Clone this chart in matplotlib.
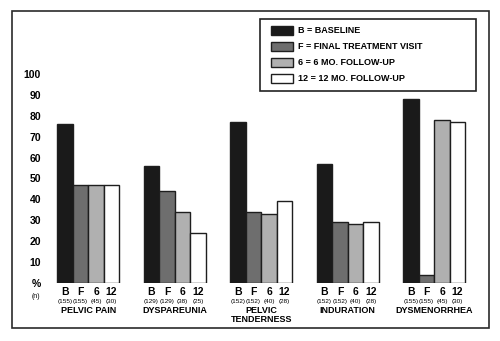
import matplotlib.pyplot as plt
from matplotlib.patches import Rectangle, Patch

plt.rcParams['font.family'] = ['Liberation Sans', 'DejaVu Sans']

categories = ['PELVIC PAIN', 'DYSPAREUNIA', 'PELVIC\nTENDERNESS', 'INDURATION', 'DYSMENORRHEA']
visits = ['B', 'F', '6', '12']
legend_labels = ['B = BASELINE', 'F = FINAL TREATMENT VISIT',
                 '6 = 6 MO. FOLLOW-UP', '12 = 12 MO. FOLLOW-UP']

# percent of patients with symptom, per visit
baseline = [76, 56, 77, 57, 88]
final_visit = [47, 44, 34, 29, 4]
followup_6 = [47, 34, 33, 28, 78]
followup_12 = [47, 24, 39, 29, 77]

# patients evaluated (n)
n_baseline = [155, 129, 152, 152, 155]
n_final = [155, 129, 152, 152, 155]
n_6 = [45, 38, 40, 40, 45]
n_12 = [30, 25, 28, 28, 30]

yticks = [0, 10, 20, 30, 40, 50, 60, 70, 80, 90, 100]
ytick_labels = ['%', '10', '20', '30', '40', '50', '60', '70', '80', '90', '100']

colors = ['#1a1a1a', '#6e6e6e', '#b0b0b0', '#ffffff']
edge = '#1e1e1e'

W, H = 500, 341
fig = plt.figure(figsize=(W / 100, H / 100), dpi=100)

# outer frame
fig.patches.append(Rectangle((12 / W, 1 - 328 / H), 477 / W, 317 / H,
                             transform=fig.transFigure, fill=False,
                             edgecolor='#2a2a2a', linewidth=1.2))

ax = fig.add_axes([48 / W, 1 - 283 / H, 432 / W, 223 / H])

series = [baseline, final_visit, followup_6, followup_12]
counts = [n_baseline, n_final, n_6, n_12]
group_step = 5.58
offset = 0.6

for j, (vals, ns) in enumerate(zip(series, counts)):
    xs = [offset + group_step * i + j + 0.5 for i in range(len(categories))]
    ax.bar(xs, vals, width=1.0, color=colors[j], edgecolor=edge, linewidth=1.0)
    for x, n in zip(xs, ns):
        ax.annotate(visits[j], xy=(x, 0), xytext=(0, -6.5), textcoords='offset points',
                    ha='center', va='center', fontsize=7.5, fontweight='bold')
        ax.annotate('(%d)' % n, xy=(x, 0), xytext=(0, -13), textcoords='offset points',
                    ha='center', va='center', fontsize=4.6)

for i, cat in enumerate(categories):
    cx = offset + group_step * i + 2
    ax.annotate(cat, xy=(cx, 0), xytext=(0, -16.5), textcoords='offset points',
                ha='center', va='top', fontsize=6.5, fontweight='bold',
                linespacing=1.05)

ax.annotate('(n)', xy=(0, 0), xycoords='axes fraction', xytext=(-9, -10),
            textcoords='offset points', ha='center', va='center', fontsize=5)

ax.set_xlim(0, 432 / 15.5)
ax.set_ylim(0, 223 / 2.09)
ax.set_yticks(yticks)
ax.set_yticklabels(ytick_labels, fontsize=7.5, fontweight='bold')
ax.tick_params(axis='y', length=0, pad=5)
ax.set_xticks([])
for s in ax.spines.values():
    s.set_visible(False)

# legend box
fig.patches.append(Rectangle((260 / W, 1 - 91 / H), 216 / W, 72 / H,
                             transform=fig.transFigure, fill=False,
                             edgecolor='#222222', linewidth=1.2))
handles = [Patch(facecolor=c, edgecolor=edge, linewidth=1.0) for c in colors]
fig.legend(handles, legend_labels, loc='upper left',
           bbox_to_anchor=(267 / W, 1 - 22 / H), frameon=False,
           prop={'weight': 'bold', 'size': 6.5},
           handlelength=2.5, handleheight=1.15, labelspacing=0.72,
           handletextpad=0.55, borderaxespad=0)

fig.savefig('out.png', dpi=100)
